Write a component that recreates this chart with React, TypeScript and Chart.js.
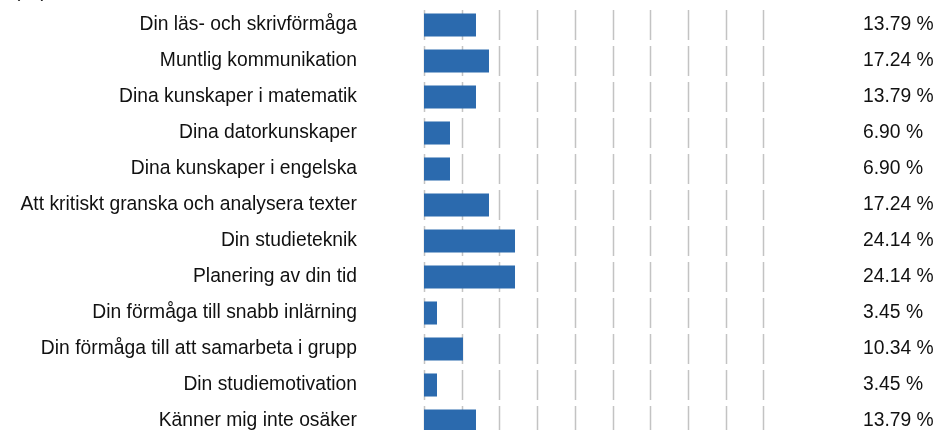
import React, { useEffect, useRef } from "react";
import { Chart, registerables } from "chart.js";

Chart.register(...registerables);

const categories = [
  "Din läs- och skrivförmåga",
  "Muntlig kommunikation",
  "Dina kunskaper i matematik",
  "Dina datorkunskaper",
  "Dina kunskaper i engelska",
  "Att kritiskt granska och analysera texter",
  "Din studieteknik",
  "Planering av din tid",
  "Din förmåga till snabb inlärning",
  "Din förmåga till att samarbeta i grupp",
  "Din studiemotivation",
  "Känner mig inte osäker",
];

const values = [13.79, 17.24, 13.79, 6.9, 6.9, 17.24, 24.14, 24.14, 3.45, 10.34, 3.45, 13.79];

const valueLabels = values.map((v) => v.toFixed(2) + " %");

const gridTicks = [0, 10, 20, 30, 40, 50, 60, 70, 80, 90];

const FONT = "'Liberation Sans', Arial, sans-serif";

const segGrid = {
  id: "segGrid",
  beforeDatasetsDraw(chart: any) {
    const { ctx, scales } = chart;
    const x = scales.x;
    const y = scales.y;
    const band = y.getPixelForValue(1) - y.getPixelForValue(0);
    const gap = 3;
    ctx.save();
    ctx.strokeStyle = "#c3c3c3";
    ctx.lineWidth = 1.5;
    ctx.beginPath();
    gridTicks.forEach((v) => {
      const px = Math.round(x.getPixelForValue(v)) + 0.5;
      categories.forEach((_, i) => {
        const c = y.getPixelForValue(i);
        ctx.moveTo(px, c - band / 2 + gap);
        ctx.lineTo(px, c + band / 2 - gap);
      });
    });
    ctx.stroke();
    ctx.restore();
  },
};

export default function App() {
  const ref = useRef<HTMLCanvasElement>(null);

  useEffect(() => {
    document.body.style.margin = "0";
    document.body.style.overflow = "hidden";
    const canvas = ref.current;
    if (!canvas) return;
    const chart = new Chart(canvas, {
      type: "bar",
      data: {
        labels: categories,
        datasets: [
          {
            data: values,
            backgroundColor: "#2b6aae",
            borderWidth: 0,
            barPercentage: 0.64,
            categoryPercentage: 1,
            yAxisID: "y",
          },
        ],
      },
      options: {
        indexAxis: "y",
        responsive: false,
        animation: false,
        devicePixelRatio: 1,
        layout: { padding: { top: 7, bottom: 11, left: 0, right: 0 } },
        plugins: {
          legend: { display: false },
          tooltip: { enabled: false },
          title: { display: false },
        },
        scales: {
          x: {
            display: false,
            min: 0,
            max: 100,
          },
          y: {
            type: "category",
            position: "left",
            offset: true,
            grid: { display: false, drawTicks: false },
            border: { display: false },
            ticks: {
              autoSkip: false,
              padding: 67,
              color: "#111",
              font: { family: FONT, size: 19.3 },
            },
            afterFit(scale: any) {
              scale.width = 424;
              scale.paddingTop = 0;
              scale.paddingBottom = 0;
            },
          },
          y2: {
            type: "category",
            position: "right",
            labels: valueLabels,
            offset: true,
            grid: { display: false, drawTicks: false },
            border: { display: false },
            ticks: {
              autoSkip: false,
              padding: 62,
              color: "#111",
              font: { family: FONT, size: 19.3 },
            },
            afterFit(scale: any) {
              scale.width = 136;
              scale.paddingTop = 0;
              scale.paddingBottom = 0;
            },
          },
        },
      } as any,
      plugins: [segGrid],
    });
    return () => chart.destroy();
  }, []);

  return (
    <div style={{ position: "relative", width: 937, height: 430, overflow: "hidden" }}>
      <div
        style={{
          position: "absolute",
          top: -20,
          left: 14,
          fontFamily: FONT,
          fontSize: 19,
          lineHeight: "22px",
          color: "#111",
          whiteSpace: "nowrap",
        }}
      >
        (ca)
      </div>
      <canvas ref={ref} width={937} height={450} style={{ display: "block" }} />
    </div>
  );
}
